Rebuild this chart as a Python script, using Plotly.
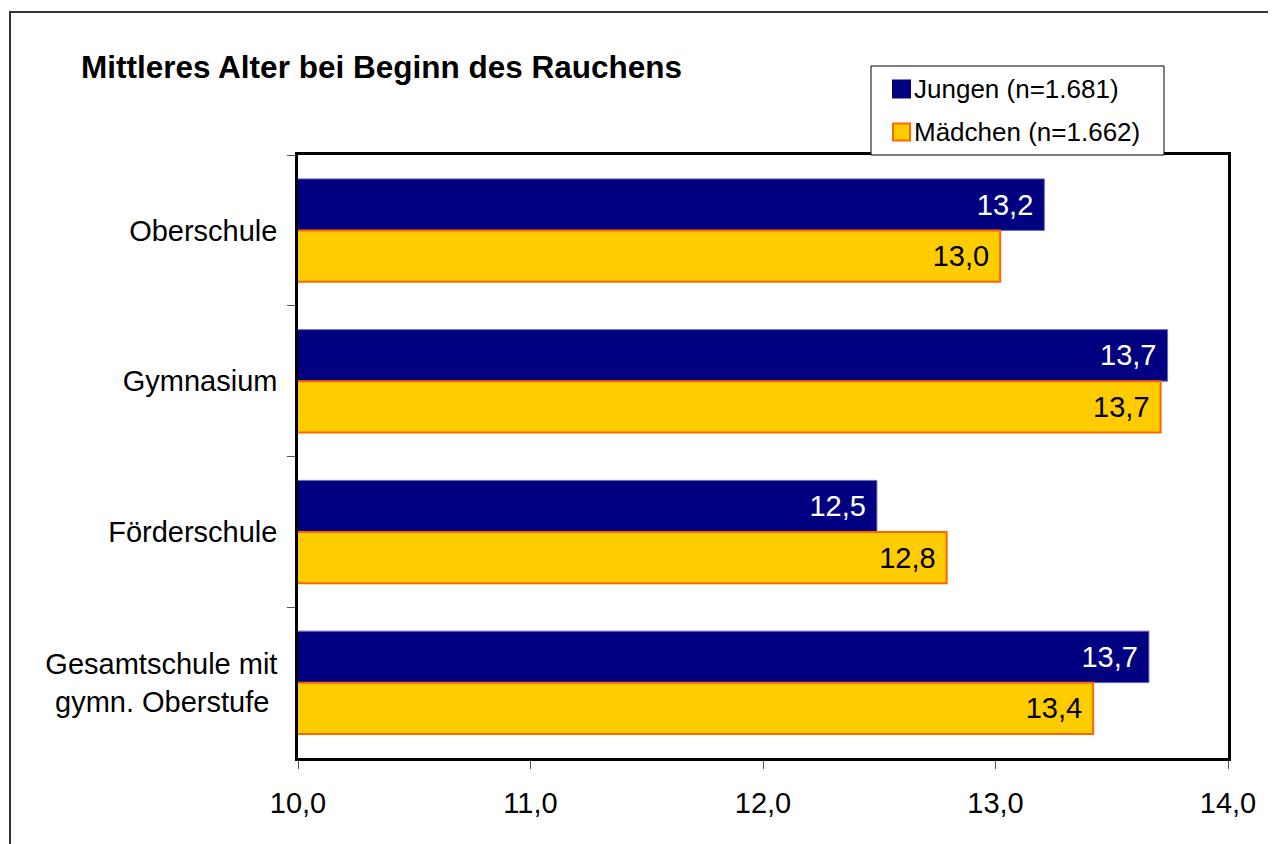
import plotly.graph_objects as go

schulen = ["Oberschule", "Gymnasium", "Förderschule", "Gesamtschule mit<br>gymn. Oberstufe\u00a0"]
jungen = [13.21, 13.74, 12.49, 13.66]
maedchen = [13.02, 13.71, 12.79, 13.42]
x_ticks = [10, 11, 12, 13, 14]
legend_names = ["Jungen (n=1.681)", "Mädchen (n=1.662)"]

# plot area in screen pixels (page body has an 8px margin)
PX0, PX1, PY0, PY1 = 298, 1228, 155, 758
PW, PH = PX1 - PX0, PY1 - PY0


def px(x):
    return (x - PX0) / PW


def py(y):
    return 1 + (PY0 - y) / PH


fig = go.Figure()
fig.add_trace(
    go.Bar(
        y=schulen,
        x=jungen,
        orientation="h",
        name=legend_names[0],
        marker=dict(color="#000080", line=dict(color="#6a6ab8", width=1)),
        texttemplate="%{x:.1f} ",
        textposition="inside",
        insidetextanchor="end",
        insidetextfont=dict(color="white", size=29, family="Liberation Sans, Arial"),
        showlegend=False,
    )
)
fig.add_trace(
    go.Bar(
        y=schulen,
        x=maedchen,
        orientation="h",
        name=legend_names[1],
        marker=dict(color="#FFCC00", line=dict(color="#FF6600", width=2)),
        texttemplate="%{x:.1f} ",
        textposition="inside",
        insidetextanchor="end",
        insidetextfont=dict(color="black", size=29, family="Liberation Sans, Arial"),
        showlegend=False,
    )
)

fig.update_layout(
    width=1276,
    height=844,
    margin=dict(l=PX0 - 8, r=1276 - (PX1 - 8), t=PY0 - 8, b=844 - (PY1 - 8)),
    paper_bgcolor="white",
    plot_bgcolor="white",
    separators=",.",
    barmode="group",
    bargap=0.317,
    bargroupgap=0,
    font=dict(family="Liberation Sans, Arial", size=29, color="black"),
)

fig.update_xaxes(
    range=[10, 14],
    tickvals=x_ticks,
    tickformat=".1f",
    showgrid=False,
    zeroline=False,
    showline=True,
    linecolor="black",
    linewidth=2.5,
    mirror=True,
    ticks="outside",
    ticklen=8,
    tickcolor="#555",
    tickfont=dict(size=29),
    ticklabelstandoff=9,
)
fig.update_yaxes(
    autorange="reversed",
    showgrid=False,
    showline=True,
    linecolor="black",
    linewidth=2.5,
    mirror=True,
    ticks="outside",
    tickson="boundaries",
    ticklen=8,
    tickcolor="#555",
    tickfont=dict(size=29),
    ticklabelstandoff=12,
)

# title
fig.add_annotation(
    text="<b>Mittleres Alter bei Beginn des Rauchens</b>",
    xref="paper",
    yref="paper",
    x=px(79),
    y=py(67),
    xanchor="left",
    yanchor="middle",
    showarrow=False,
    font=dict(size=31.5, color="black"),
)

# outer frame
fig.add_shape(
    type="rect",
    xref="paper",
    yref="paper",
    x0=px(10),
    x1=1.3,
    y0=-0.3,
    y1=py(12),
    line=dict(color="#333", width=2),
    layer="below",
)

# legend box
fig.add_shape(
    type="rect",
    xref="paper",
    yref="paper",
    x0=px(871),
    x1=px(1164),
    y0=py(155),
    y1=py(66),
    line=dict(color="black", width=1),
    fillcolor="white",
    layer="above",
)
legend_rows = [
    (89, "#000080", "#000080"),
    (132, "#FFCC00", "#FF6600"),
]
for name, (yc, fill, edge) in zip(legend_names, legend_rows):
    fig.add_shape(
        type="rect",
        xref="paper",
        yref="paper",
        x0=px(893),
        x1=px(910),
        y0=py(yc + 8.5),
        y1=py(yc - 8.5),
        fillcolor=fill,
        line=dict(color=edge, width=2),
        layer="above",
    )
    fig.add_annotation(
        text=name,
        xref="paper",
        yref="paper",
        x=px(912),
        y=py(yc),
        xanchor="left",
        yanchor="middle",
        showarrow=False,
        font=dict(size=26, color="black"),
    )

fig.write_html("out.html")
